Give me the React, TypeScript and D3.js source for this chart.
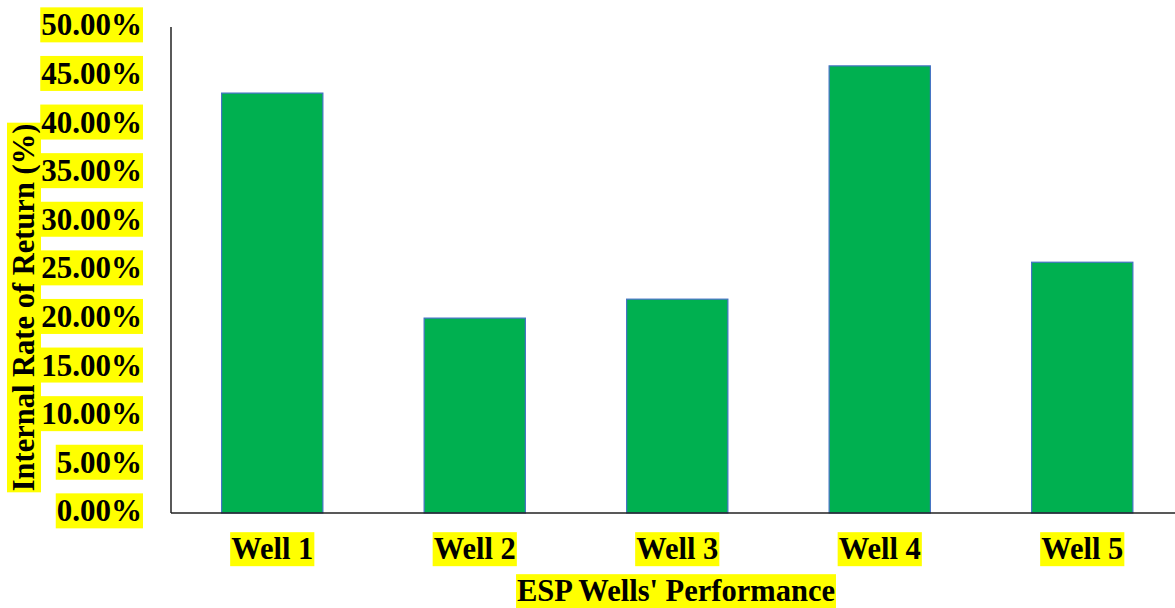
import React, { useEffect, useRef } from "react";
import * as d3 from "d3";

const categories = ["Well 1", "Well 2", "Well 3", "Well 4", "Well 5"];
const irrValues = [0.432, 0.2005, 0.22, 0.46, 0.258];
const yTicks = [0, 0.05, 0.1, 0.15, 0.2, 0.25, 0.3, 0.35, 0.4, 0.45, 0.5];

const W = 1175;
const H = 608;
const FONT = "'Liberation Serif', 'Times New Roman', serif";

export default function App() {
  const ref = useRef<SVGSVGElement | null>(null);

  useEffect(() => {
    const svg = d3.select(ref.current);
    svg.selectAll("*").remove();

    const x = d3.scaleBand<string>().domain(categories).range([171, 1183.5]).paddingInner(0.5).paddingOuter(0.25);
    const y = d3.scaleLinear().domain([0, 0.5]).range([513, 27]);

    const highlight = (sel: d3.Selection<SVGTextElement, any, any, any>, layer: d3.Selection<SVGGElement, any, any, any>) => {
      sel.each(function () {
        const b = (this as SVGTextElement).getBBox();
        layer
          .append("rect")
          .attr("x", b.x - 1)
          .attr("y", b.y)
          .attr("width", b.width + 2)
          .attr("height", b.height)
          .attr("fill", "#FFFF00");
      });
    };

    // Y axis title
    const titleBg = svg.append("g");
    const yTitle = svg
      .append("text")
      .attr("transform", `translate(34,307.5) rotate(-90)`)
      .attr("text-anchor", "middle")
      .attr("font-family", FONT)
      .attr("font-weight", "bold")
      .attr("font-size", 30.5)
      .attr("fill", "#000")
      .text("Internal Rate of Return (%)");
    yTitle.each(function () {
      const b = (this as SVGTextElement).getBBox();
      titleBg
        .append("rect")
        .attr("transform", `translate(34,307.5) rotate(-90)`)
        .attr("x", b.x - 1)
        .attr("y", b.y)
        .attr("width", b.width + 2)
        .attr("height", b.height)
        .attr("fill", "#FFFF00");
    });

    // Y tick labels
    const tickBg = svg.append("g");
    const tickLabels = svg
      .append("g")
      .selectAll("text")
      .data(yTicks)
      .join("text")
      .attr("x", 142)
      .attr("y", (d) => y(d) - 2.5)
      .attr("dy", "0.35em")
      .attr("text-anchor", "end")
      .attr("font-family", FONT)
      .attr("font-weight", "bold")
      .attr("font-size", 31)
      .attr("fill", "#000")
      .text((d) => d3.format(".2%")(d));
    highlight(tickLabels as any, tickBg);

    // Bars
    svg
      .append("g")
      .selectAll("rect")
      .data(categories)
      .join("rect")
      .attr("x", (d) => x(d)!)
      .attr("y", (d, i) => y(irrValues[i]))
      .attr("width", x.bandwidth())
      .attr("height", (d, i) => y(0) - y(irrValues[i]))
      .attr("fill", "#00B050")
      .attr("stroke", "#4472C4")
      .attr("stroke-width", 1.2);

    // Axes lines
    svg
      .append("line")
      .attr("x1", 171)
      .attr("x2", 171)
      .attr("y1", 27)
      .attr("y2", 513)
      .attr("stroke", "#000")
      .attr("stroke-width", 1.3);
    svg
      .append("line")
      .attr("x1", 171)
      .attr("x2", W)
      .attr("y1", 513)
      .attr("y2", 513)
      .attr("stroke", "#222")
      .attr("stroke-width", 1.3);

    // X labels
    const xBg = svg.append("g");
    const xLabels = svg
      .append("g")
      .selectAll("text")
      .data(categories)
      .join("text")
      .attr("x", (d) => x(d)! + x.bandwidth() / 2)
      .attr("y", 548.5)
      .attr("dy", "0.35em")
      .attr("text-anchor", "middle")
      .attr("font-family", FONT)
      .attr("font-weight", "bold")
      .attr("font-size", 30.5)
      .attr("fill", "#000")
      .text((d) => d);
    highlight(xLabels as any, xBg);

    // X title
    const xtBg = svg.append("g");
    const xTitle = svg
      .append("text")
      .attr("x", 676)
      .attr("y", 590.5)
      .attr("dy", "0.35em")
      .attr("text-anchor", "middle")
      .attr("font-family", FONT)
      .attr("font-weight", "bold")
      .attr("font-size", 30.5)
      .attr("fill", "#000")
      .text("ESP Wells' Performance");
    highlight(xTitle as any, xtBg);
  }, []);

  return (
    <svg
      ref={ref}
      width={W}
      height={H}
      style={{ position: "absolute", left: 0, top: 0, background: "#fff" }}
    />
  );
}
